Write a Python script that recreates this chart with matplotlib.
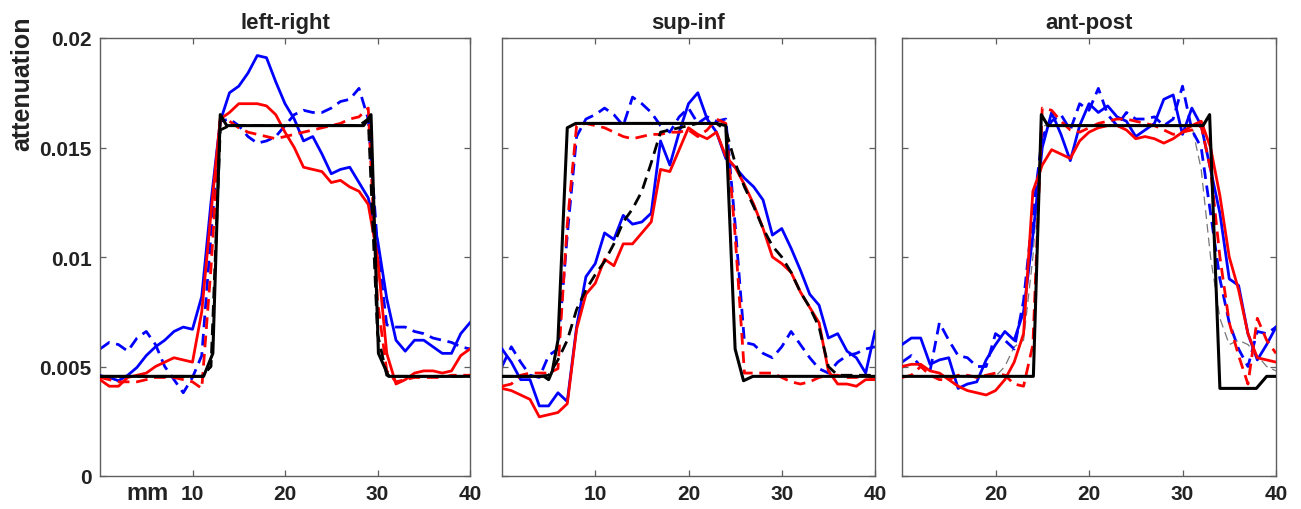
import matplotlib
matplotlib.use("Agg")
import matplotlib.pyplot as plt

# ---------------- data ----------------
titles = ["left-right", "sup-inf", "ant-post"]
x_mm = list(range(41))

# panel 1: left-right
lr_true_x = [0, 11.2, 12.2, 13.0, 13.7, 28.5, 29.3, 30.1, 31.2, 40]
lr_true_y = [0.00455, 0.00455, 0.0056, 0.0165, 0.0160, 0.0160, 0.0165, 0.0056, 0.00455, 0.00455]
lr_true2 = [0.00455] * 12 + [0.0050, 0.0158] + [0.0160] * 15 + [0.0163, 0.0065, 0.0046] + [0.00455] * 9
lr_blue = [0.00458, 0.0045, 0.00435, 0.0046, 0.00496, 0.0055, 0.0059, 0.0062, 0.0066, 0.0068,
           0.0067, 0.0082, 0.0125, 0.0162, 0.0175, 0.0178, 0.0184, 0.0192, 0.0191, 0.0180,
           0.0170, 0.0163, 0.0153, 0.0155, 0.0147, 0.0138, 0.0140, 0.0141, 0.0134, 0.0127,
           0.0108, 0.0081, 0.0062, 0.0057, 0.0062, 0.0062, 0.0059, 0.0056, 0.0056, 0.0065, 0.0070]
lr_blue_d = [0.0058, 0.0061, 0.0060, 0.0057, 0.0063, 0.0066, 0.0060, 0.0050, 0.0044, 0.0038,
             0.0045, 0.0055, 0.0110, 0.0162, 0.0163, 0.0160, 0.0155, 0.0152, 0.0153, 0.0155,
             0.0160, 0.0165, 0.0167, 0.0166, 0.0166, 0.0168, 0.0171, 0.0172, 0.0177, 0.0163,
             0.0105, 0.0069, 0.0068, 0.0068, 0.0066, 0.0065, 0.0063, 0.0062, 0.0061, 0.0059, 0.0058]
lr_red = [0.0044, 0.0041, 0.0041, 0.0045, 0.0046, 0.0047, 0.0050, 0.0052, 0.0054, 0.0053,
          0.0052, 0.0075, 0.0120, 0.0163, 0.0166, 0.0170, 0.0170, 0.0170, 0.0169, 0.0165,
          0.0157, 0.0150, 0.0141, 0.0140, 0.0139, 0.0134, 0.0135, 0.0132, 0.0130, 0.0124,
          0.0100, 0.0056, 0.0042, 0.0044, 0.0047, 0.0048, 0.0048, 0.0047, 0.0048, 0.0055, 0.0058]
lr_red_d = [0.0045, 0.0044, 0.0043, 0.0043, 0.0043, 0.0044, 0.0045, 0.0045, 0.0045, 0.0044,
            0.0043, 0.0040, 0.0095, 0.0163, 0.0162, 0.0159, 0.0157, 0.0156, 0.0155, 0.0154,
            0.0155, 0.0156, 0.0157, 0.0158, 0.0159, 0.0160, 0.0161, 0.0163, 0.0164, 0.0168,
            0.0080, 0.0048, 0.0043, 0.0044, 0.0045, 0.0045, 0.0045, 0.0045, 0.0046, 0.0046, 0.0046]

# panel 2: sup-inf
si_true_x = [0, 4.5, 5.0, 5.4, 6.0, 7.0, 7.9, 23.0, 24.0, 25.0, 25.9, 26.9, 40]
si_true_y = [0.00455, 0.00455, 0.0044, 0.0048, 0.0062, 0.0159, 0.0161, 0.0161, 0.0160, 0.0058,
             0.00435, 0.00455, 0.00455]
si_true2 = [0.00455, 0.00455, 0.00455, 0.00455, 0.00455, 0.0046, 0.0053, 0.0062, 0.0076, 0.0085,
            0.0092, 0.0098, 0.0106, 0.0116, 0.0122, 0.0130, 0.0143, 0.0157, 0.0158, 0.0159,
            0.0160, 0.0161, 0.0161, 0.0161, 0.0158, 0.0143, 0.0132, 0.0123, 0.0113, 0.0105,
            0.0100, 0.0093, 0.0084, 0.0077, 0.0068, 0.0050, 0.0046, 0.0046, 0.0046, 0.0046, 0.0046]
si_blue = [0.0058, 0.0052, 0.0044, 0.0044, 0.0032, 0.0032, 0.0038, 0.0034, 0.0068, 0.0091,
           0.0097, 0.0111, 0.0108, 0.0119, 0.0115, 0.0116, 0.0120, 0.0153, 0.0142, 0.0157,
           0.0170, 0.0175, 0.0163, 0.0157, 0.0145, 0.0141, 0.0136, 0.0132, 0.0126, 0.0110,
           0.0113, 0.0104, 0.0094, 0.0083, 0.0078, 0.0063, 0.0065, 0.0057, 0.0054, 0.0047, 0.0066]
si_blue_d = [0.0050, 0.0059, 0.0052, 0.0046, 0.0045, 0.0055, 0.0058, 0.0110, 0.0155, 0.0163,
             0.0165, 0.0168, 0.0165, 0.0160, 0.0173, 0.0170, 0.0166, 0.0160, 0.0157, 0.0164,
             0.0168, 0.0161, 0.0164, 0.0162, 0.0163, 0.0115, 0.0061, 0.0060, 0.0056, 0.0054,
             0.0059, 0.0066, 0.0060, 0.0054, 0.0049, 0.0047, 0.0052, 0.0055, 0.0056, 0.0058, 0.0059]
si_red = [0.0040, 0.0039, 0.0037, 0.0035, 0.0027, 0.0028, 0.0029, 0.0033, 0.0067, 0.0083,
          0.0088, 0.0099, 0.0096, 0.0106, 0.0106, 0.0111, 0.0116, 0.0140, 0.0139, 0.0149,
          0.0159, 0.0156, 0.0154, 0.0157, 0.0146, 0.0141, 0.0133, 0.0124, 0.0113, 0.0100,
          0.0097, 0.0093, 0.0084, 0.0077, 0.0070, 0.0048, 0.0042, 0.0042, 0.0041, 0.0044, 0.0044]
si_red_d = [0.0041, 0.0042, 0.0046, 0.0047, 0.0047, 0.0047, 0.0049, 0.0115, 0.0160, 0.0161,
            0.0160, 0.0159, 0.0157, 0.0155, 0.0154, 0.0155, 0.0156, 0.0156, 0.0157, 0.0157,
            0.0158, 0.0155, 0.0158, 0.0163, 0.0161, 0.0110, 0.0047, 0.0047, 0.0047, 0.0047,
            0.0045, 0.0043, 0.0042, 0.0043, 0.0045, 0.0046, 0.0046, 0.0045, 0.0045, 0.0046, 0.0044]

# panel 3: ant-post
ap_true_x = [0, 14.05, 14.9, 15.6, 32.2, 32.9, 34.0, 37.9, 39.0, 40]
ap_true_y = [0.00455, 0.00455, 0.0165, 0.0160, 0.0160, 0.0165, 0.0040, 0.0040, 0.00455, 0.00455]
ap_true2 = [0.00455] * 11 + [0.0050, 0.0059, 0.0062, 0.0100, 0.0160] + [0.0160] * 16 + \
           [0.0140, 0.0100, 0.0072, 0.0060, 0.0062, 0.0060, 0.0055, 0.0050, 0.0048]
ap_blue = [0.0060, 0.0063, 0.0063, 0.0051, 0.0053, 0.0054, 0.0040, 0.0042, 0.0043, 0.0053,
           0.0060, 0.0066, 0.0062, 0.0075, 0.0110, 0.0150, 0.0166, 0.0156, 0.0144, 0.0160,
           0.0170, 0.0166, 0.0169, 0.0164, 0.0162, 0.0155, 0.0158, 0.0161, 0.0172, 0.0174,
           0.0156, 0.0168, 0.0160, 0.0140, 0.0120, 0.0090, 0.0087, 0.0065, 0.0053, 0.0060, 0.0068]
ap_blue_d = [0.0052, 0.0055, 0.0050, 0.0048, 0.0070, 0.0062, 0.0055, 0.0054, 0.0050, 0.0050,
             0.0065, 0.0062, 0.0058, 0.0080, 0.0120, 0.0155, 0.0162, 0.0165, 0.0158, 0.0170,
             0.0167, 0.0177, 0.0165, 0.0160, 0.0166, 0.0163, 0.0163, 0.0164, 0.0160, 0.0163,
             0.0178, 0.0158, 0.0150, 0.0120, 0.0090, 0.0070, 0.0058, 0.0050, 0.0066, 0.0065, 0.0068]
ap_red = [0.0050, 0.0051, 0.0051, 0.0048, 0.0047, 0.0044, 0.0041, 0.0039, 0.0038, 0.0037,
          0.0039, 0.0044, 0.0052, 0.0065, 0.0130, 0.0142, 0.0149, 0.0147, 0.0145, 0.0153,
          0.0157, 0.0159, 0.0160, 0.0160, 0.0158, 0.0154, 0.0155, 0.0154, 0.0152, 0.0154,
          0.0157, 0.0160, 0.0162, 0.0150, 0.0128, 0.0100, 0.0085, 0.0065, 0.0054, 0.0053, 0.0052]
ap_red_d = [0.0045, 0.0046, 0.0050, 0.0046, 0.0044, 0.0044, 0.0046, 0.0046, 0.0045, 0.0046,
            0.0047, 0.0046, 0.0042, 0.0041, 0.0060, 0.0168, 0.0167, 0.0162, 0.0158, 0.0157,
            0.0159, 0.0161, 0.0162, 0.0163, 0.0163, 0.0162, 0.0161, 0.0160, 0.0158, 0.0156,
            0.0157, 0.0158, 0.0160, 0.0140, 0.0100, 0.0070, 0.0055, 0.0042, 0.0072, 0.0062, 0.0056]

xtick_vals = [10, 20, 30, 40]
xtick_labels = [["10", "20", "30", "40"], ["10", "20", "30", "40"], ["20", "20", "30", "40"]]
ytick_vals = [0, 0.005, 0.01, 0.015, 0.02]
ytick_labels = ["0", "0.005", "0.01", "0.015", "0.02"]

panels = [
    (lr_true_x, lr_true_y, lr_true2, lr_blue, lr_blue_d, lr_red, lr_red_d),
    (si_true_x, si_true_y, si_true2, si_blue, si_blue_d, si_red, si_red_d),
    (ap_true_x, ap_true_y, ap_true2, ap_blue, ap_blue_d, ap_red, ap_red_d),
]

# ---------------- drawing ----------------
plt.rcParams['font.family'] = ['Liberation Sans', 'DejaVu Sans']
plt.rcParams['font.weight'] = 'bold'

W, H = 1301, 510
fig = plt.figure(figsize=(W / 100, H / 100), dpi=100)
lefts = [100, 502, 902]
rights = [470, 875, 1276]
top, bottom = 39, 477

dash = (0, (4.2, 2.4))
lw = 2.0
spine_col = '#5e5e5e'
text_col = '#222222'

for i, (tx, ty, t2, b, bd, r, rd) in enumerate(panels):
    ax = fig.add_axes([lefts[i] / W, (H - bottom) / H, (rights[i] - lefts[i]) / W, (bottom - top) / H])
    ax.plot(x_mm, bd, color='blue', lw=lw, ls=dash, zorder=2)
    ax.plot(x_mm, b, color='blue', lw=lw, zorder=3)
    ax.plot(x_mm, rd, color='red', lw=lw, ls=dash, zorder=4)
    ax.plot(x_mm, r, color='red', lw=lw, zorder=5)
    if i == 2:
        ax.plot(x_mm, t2, color='#777777', lw=0.9, ls=(0, (7, 4)), zorder=1)
    else:
        ax.plot(x_mm, t2, color='black', lw=lw, ls=dash, zorder=6)
    ax.plot(tx, ty, color='black', lw=2.2, zorder=7)

    ax.set_xlim(0, 40)
    ax.set_ylim(0, 0.02)
    ax.set_xticks(xtick_vals)
    ax.set_xticklabels(xtick_labels[i])
    ax.set_yticks(ytick_vals)
    if i == 0:
        ax.set_yticklabels(ytick_labels)
    else:
        ax.set_yticklabels([])
    ax.tick_params(direction='in', length=4, width=0.9, color=spine_col,
                   top=True, right=True, labelsize=15, labelcolor=text_col, pad=6)
    for lab in ax.get_xticklabels() + ax.get_yticklabels():
        lab.set_fontweight('bold')
    for s in ax.spines.values():
        s.set_color(spine_col)
        s.set_linewidth(1.0)
    ax.set_title(titles[i], fontsize=16, fontweight='bold', color=text_col, pad=7)

fig.text(22 / W, 1 - 84 / H, "attenuation", rotation=90, ha='center', va='center',
         fontsize=18, fontweight='bold', color=text_col)
fig.text(148 / W, 1 - 494 / H, "mm", ha='center', va='center',
         fontsize=17, fontweight='bold', color=text_col)

fig.savefig("out.png", dpi=100)
